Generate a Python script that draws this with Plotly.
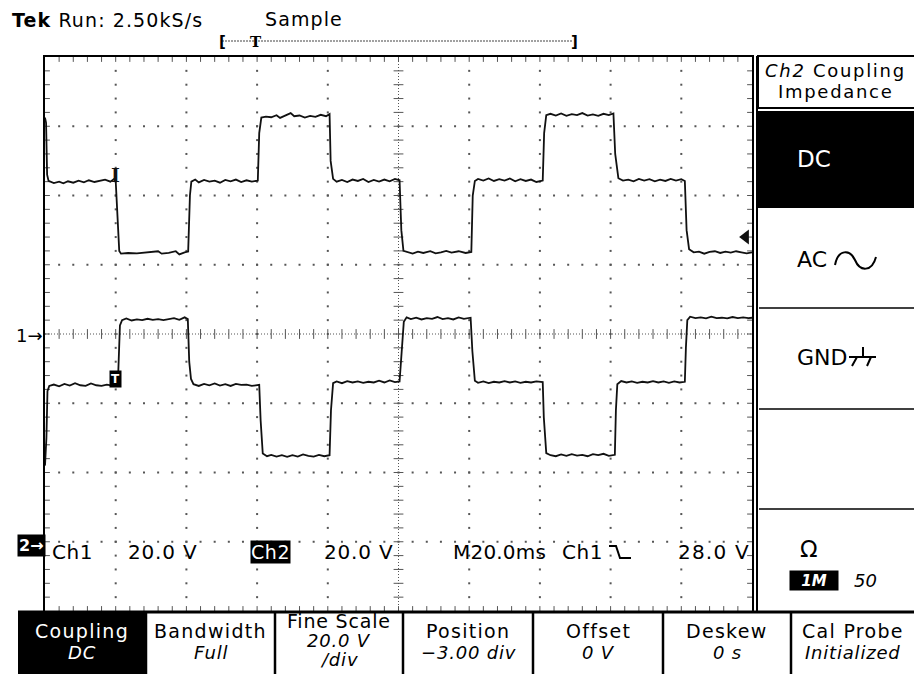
import plotly.graph_objects as go

W, H = 914, 674

CH1_T = [-20.0, -19.7, -19.4, -19.0, -17.5, -16.0, -14.8, -13.5, -12.0, -10.5, -9.0, -7.6, -6.0, -4.5, -3.0, -1.5, -0.4,
         0.0, 0.6, 1.0, 1.5, 3.5, 6.0, 9.0, 12.0, 13.0, 15.0, 17.0, 18.0, 19.5,
         20.5, 21.0, 21.4, 22.5, 23.5, 25.0, 26.5, 28.0, 29.5, 31.0, 32.5, 34.0, 35.5, 37.0, 38.5,
         40.2, 40.6, 41.2, 42.5, 44.0, 45.5, 46.5, 48.0, 49.5, 50.5, 52.0, 53.5, 55.0, 56.5, 58.0, 59.5,
         60.5, 60.8, 61.5, 62.5, 64.0, 65.5, 67.0, 68.5, 70.0, 71.5, 73.0, 74.5, 76.0, 77.5, 79.0,
         80.3, 80.8, 81.4, 82.5, 84.0, 85.5, 87.0, 89.0, 90.5, 92.0, 93.5, 95.0, 97.0, 99.0,
         100.6, 101.0, 101.6, 102.5, 104.0, 105.5, 107.0, 108.5, 110.0, 111.5, 113.0, 114.5, 116.0, 117.5, 119.0,
         120.8, 121.2, 121.8, 123.0, 124.5, 126.0, 127.5, 129.0, 130.5, 132.0, 133.5, 135.0, 136.5, 138.0, 139.5,
         140.8, 141.3, 142.2, 143.5, 145.0, 146.5, 148.0, 149.5, 151.0, 152.5, 154.0, 155.5, 157.0, 158.5, 160.0,
         161.0, 161.5, 162.2, 163.5, 165.0, 166.5, 168.0, 169.5, 171.0, 172.5, 174.0, 175.5, 177.0, 178.5, 180.0]
CH1_V = [62.5, 61.0, 46.0, 44.2, 43.6, 44.0, 43.5, 44.1, 43.7, 44.3, 43.8, 44.4, 43.9, 44.2, 44.6, 44.0, 44.8,
         44.2, 30.0, 24.0, 23.2, 23.4, 23.3, 23.5, 23.9, 23.2, 23.4, 23.9, 23.0, 23.6,
         23.8, 40.0, 44.0, 44.6, 43.8, 44.5, 44.0, 44.3, 43.7, 44.5, 44.1, 44.6, 43.9, 44.4, 44.0,
         44.3, 58.0, 62.5, 62.8, 62.6, 63.2, 62.4, 63.0, 63.8, 62.9, 63.1, 62.5, 63.0, 62.7, 63.3, 62.9,
         63.5, 50.0, 44.8, 44.0, 44.5, 43.9, 44.6, 44.2, 44.8, 43.9, 44.5, 44.0, 44.6, 44.1, 44.8,
         44.4, 30.0, 24.0, 23.6, 23.2, 23.8, 23.4, 23.9, 23.3, 23.6, 24.0, 23.5, 23.9, 23.4,
         23.7, 40.0, 44.2, 44.8, 44.3, 44.9, 44.2, 44.7, 44.3, 44.9, 44.1, 44.7, 44.2, 44.6, 43.9,
         44.3, 58.0, 63.2, 63.6, 63.1, 63.7, 63.0, 63.5, 63.2, 63.8, 63.1, 63.4, 63.0, 63.6, 63.2,
         63.7, 52.0, 45.0, 44.3, 44.6, 44.1, 44.8, 44.3, 44.7, 44.1, 44.6, 44.2, 44.8, 44.3, 44.7,
         44.2, 30.0, 24.5, 23.6, 23.8, 23.2, 23.7, 23.9, 23.4, 23.8, 23.5, 23.9, 23.6, 23.3, 23.6]

CH2_T = [-20.0, -19.6, -19.3, -18.8, -17.5, -16.0, -14.5, -13.0, -11.5, -10.0, -8.5, -7.0, -5.5, -4.0, -2.5, -1.0,
         0.6, 0.8, 1.2, 1.8, 3.0, 4.5, 6.0, 7.5, 9.0, 10.5, 12.0, 13.5, 15.0, 16.5, 18.0, 19.5,
         20.4, 20.8, 21.3, 22.0, 23.5, 25.0, 26.5, 28.0, 29.5, 31.0, 32.5, 34.0, 35.5, 37.0, 38.5,
         40.6, 41.0, 41.6, 42.8, 44.0, 45.5, 47.0, 48.5, 50.0, 51.5, 53.0, 54.5, 56.0, 57.5, 59.0,
         60.5, 60.9, 61.5, 62.5, 64.0, 65.5, 67.0, 68.5, 70.0, 71.5, 73.0, 74.5, 76.0, 77.5, 79.0,
         80.3, 80.7, 81.5, 82.3, 83.5, 85.0, 86.5, 88.0, 89.5, 91.0, 92.5, 94.0, 95.5, 97.0, 98.5,
         100.4, 100.9, 101.6, 102.5, 104.0, 105.5, 107.0, 108.5, 110.0, 111.5, 113.0, 114.5, 116.0, 117.5, 119.0,
         120.8, 121.1, 121.8, 123.0, 124.5, 126.0, 127.5, 129.0, 130.5, 132.0, 133.5, 135.0, 136.5, 138.0, 139.5,
         141.2, 141.5, 141.9, 143.0, 144.5, 146.0, 147.5, 149.0, 150.5, 152.0, 153.5, 155.0, 156.5, 158.0, 159.5,
         161.0, 161.3, 161.7, 162.5, 164.0, 165.5, 167.0, 168.5, 170.0, 171.5, 173.0, 174.5, 176.0, 177.5, 179.0, 180.0]
CH2_V = [22.0, 30.0, 43.5, 45.0, 45.4, 44.9, 45.6, 45.1, 45.8, 45.2, 45.0, 45.7, 45.2, 45.0, 45.4, 45.1,
         45.3, 50.0, 62.5, 64.0, 64.5, 63.9, 64.2, 64.0, 64.4, 64.1, 64.3, 64.0, 64.2, 64.6, 64.1, 64.8,
         64.3, 52.0, 47.0, 45.5, 45.0, 45.6, 45.2, 45.7, 45.1, 45.5, 45.0, 45.6, 45.3, 45.4, 45.0,
         45.3, 35.0, 25.5, 24.7, 25.1, 24.6, 25.0, 24.5, 25.0, 24.6, 25.2, 24.8, 24.6, 25.1, 24.7,
         25.0, 38.0, 45.8, 46.3, 45.8, 46.4, 46.0, 46.3, 45.9, 46.2, 46.0, 46.5, 46.0, 46.6, 46.1,
         46.3, 52.0, 63.5, 64.8, 64.3, 64.7, 64.2, 64.6, 64.4, 64.9, 64.3, 64.6, 64.2, 64.8, 64.4,
         64.7, 55.0, 46.5, 45.9, 46.3, 45.8, 46.2, 46.0, 46.4, 46.0, 46.3, 45.9, 46.2, 46.0, 46.3,
         46.1, 36.0, 25.6, 25.0, 24.7, 25.2, 24.8, 25.3, 24.9, 25.1, 24.7, 25.3, 25.0, 25.4, 24.8,
         25.1, 38.0, 45.5, 46.4, 46.0, 46.3, 45.9, 46.2, 46.0, 46.4, 46.0, 46.3, 45.9, 46.3, 46.0,
         46.2, 56.0, 64.0, 65.0, 64.6, 64.8, 64.5, 65.0, 64.6, 64.7, 64.5, 64.9, 64.6, 64.8, 64.6, 64.7]

TIME_PER_DIV = 20.0        # ms / div
CH1_VOLTS_PER_DIV = 20.0
CH2_VOLTS_PER_DIV = 20.0
CH2_POSITION_DIV = -3.0
TRIGGER_TIME = 0.0
TRIGGER_LEVEL = 28.0
TRIGGER_DIV_FROM_LEFT = 1
H_DIVS, V_DIVS, SUBDIV = 10, 8, 5

MENU_LABELS = ["Coupling", "Bandwidth", "Fine Scale", "Position", "Offset", "Deskew", "Cal Probe"]
MENU_VALUES = ["DC", "Full", "20.0 V<br>/div", "\u22123.00 div", "0 V", "0 s", "Initialized"]

FONT = "DejaVu Sans"
INK = "#111111"
GRID = "#555555"

# ---------------- axes ranges from the scope settings ----------------
x_range = [TRIGGER_TIME - TRIGGER_DIV_FROM_LEFT * TIME_PER_DIV,
           TRIGGER_TIME + (H_DIVS - TRIGGER_DIV_FROM_LEFT) * TIME_PER_DIV]
y_range = [-V_DIVS / 2 * CH1_VOLTS_PER_DIV, V_DIVS / 2 * CH1_VOLTS_PER_DIV]
y2_range = [(-V_DIVS / 2 - CH2_POSITION_DIV) * CH2_VOLTS_PER_DIV,
            (V_DIVS / 2 - CH2_POSITION_DIV) * CH2_VOLTS_PER_DIV]

# plot area in pixels
PL, PR, PT, PB = 45, 752, 57, 611


def px(x):
    return x / W


def py(y):
    return 1 - y / H


fig = go.Figure()

# ---------------- graticule ----------------
dt = TIME_PER_DIV / SUBDIV
dv = CH1_VOLTS_PER_DIV / SUBDIV
xc = (x_range[0] + x_range[1]) / 2
yc = (y_range[0] + y_range[1]) / 2

dots_x, dots_y = [], []
for k in range(1, H_DIVS):
    if k == H_DIVS // 2:
        continue
    t = x_range[0] + k * TIME_PER_DIV
    for j in range(1, V_DIVS * SUBDIV):
        dots_x.append(t)
        dots_y.append(y_range[0] + j * dv)
for k in range(1, V_DIVS):
    if k == V_DIVS // 2:
        continue
    v = y_range[0] + k * CH1_VOLTS_PER_DIV
    for i in range(1, H_DIVS * SUBDIV):
        dots_x.append(x_range[0] + i * dt)
        dots_y.append(v)
fig.add_trace(go.Scatter(x=dots_x, y=dots_y, mode="markers", hoverinfo="skip",
                         marker=dict(symbol="square", size=2, color=GRID, line=dict(width=0))))

# centre lines (dense dots)
fig.add_trace(go.Scatter(x=[xc, xc], y=y_range, mode="lines", hoverinfo="skip",
                         line=dict(color=GRID, width=1, dash="1px,2px")))
fig.add_trace(go.Scatter(x=x_range, y=[yc, yc], mode="lines", hoverinfo="skip",
                         line=dict(color=GRID, width=1, dash="1px,2px")))

# centre-line cross ticks
ns_x, ns_y, ew_x, ew_y = [], [], [], []
for i in range(1, H_DIVS * SUBDIV):
    ns_x.append(x_range[0] + i * dt)
    ns_y.append(yc)
for j in range(1, V_DIVS * SUBDIV):
    ew_x.append(xc)
    ew_y.append(y_range[0] + j * dv)
# border ticks (half clipped -> inward)
for i in range(1, H_DIVS * SUBDIV):
    for v in y_range:
        ns_x.append(x_range[0] + i * dt)
        ns_y.append(v)
for j in range(1, V_DIVS * SUBDIV):
    for t in x_range:
        ew_x.append(t)
        ew_y.append(y_range[0] + j * dv)
fig.add_trace(go.Scatter(x=ns_x, y=ns_y, mode="markers", hoverinfo="skip",
                         marker=dict(symbol="line-ns", size=7, color=GRID, line=dict(width=1, color=GRID))))
fig.add_trace(go.Scatter(x=ew_x, y=ew_y, mode="markers", hoverinfo="skip",
                         marker=dict(symbol="line-ew", size=7, color=GRID, line=dict(width=1, color=GRID))))

# ---------------- waveforms ----------------
fig.add_trace(go.Scatter(x=CH1_T, y=CH1_V, mode="lines", name="Ch1", hoverinfo="skip",
                         line=dict(color=INK, width=1.8)))
fig.add_trace(go.Scatter(x=CH2_T, y=CH2_V, mode="lines", name="Ch2", yaxis="y2", hoverinfo="skip",
                         line=dict(color=INK, width=1.8)))

# trigger level arrow on right edge
fig.add_trace(go.Scatter(x=[x_range[1] - 0.09 * TIME_PER_DIV], y=[TRIGGER_LEVEL], mode="markers",
                         hoverinfo="skip", cliponaxis=False,
                         marker=dict(symbol="triangle-left", size=13, color=INK)))

fig.update_layout(
    width=W, height=H, margin=dict(l=0, r=0, t=0, b=0),
    paper_bgcolor="white", plot_bgcolor="white", showlegend=False,
    xaxis=dict(domain=[px(PL), px(PR)], range=x_range, showgrid=False, zeroline=False,
               showticklabels=False, ticks="", showline=True, mirror=True, linecolor="black", linewidth=2),
    yaxis=dict(domain=[py(PB), py(PT)], range=y_range, showgrid=False, zeroline=False,
               showticklabels=False, ticks="", showline=True, mirror=True, linecolor="black", linewidth=2),
    yaxis2=dict(overlaying="y", range=y2_range, showgrid=False, zeroline=False,
                showticklabels=False, ticks="", showline=False),
)

# ---------------- annotations / UI ----------------
anns = []


def ann(text, x, y, size=19, color="black", xanchor="left", bg=None, ls=None, bold=False,
        italic=False, family=FONT, pad=0, **kw):
    t = text
    if ls is not None:
        t = '<span style="letter-spacing:%spx">%s</span>' % (ls, t)
    f = dict(family=family, size=size, color=color)
    if bold:
        f["weight"] = "bold"
    if italic:
        f["style"] = "italic"
    d = dict(text=t, x=px(x), y=py(y), xref="paper", yref="paper", xanchor=xanchor,
             yanchor="middle", showarrow=False, font=f, borderpad=pad)
    if bg:
        d["bgcolor"] = bg
    d.update(kw)
    anns.append(d)


# top status
ann("<b>Tek</b> Run: 2.50kS/s", 11, 20, size=19, ls=1.1)
ann("Sample", 264, 19, size=19, ls=1.1)
ann("<b>[</b>", 218, 42, size=15)
ann("<b>]</b>", 570, 42, size=15)
ann("<b>T</b>", 249, 42, size=15, family="DejaVu Serif")

# ground markers
ann("1\u2192", 44, 335, size=18, xanchor="right")
ann("<b>2\u2192</b>", 17, 545, size=16, color="white", bg="black", pad=1)

# trigger markers on traces
anns.append(dict(text="<b>I</b>", x=TRIGGER_TIME, y=46.0, xref="x", yref="y", showarrow=False,
                 xanchor="center", yanchor="middle", font=dict(family="DejaVu Serif", size=19, color=INK)))
anns.append(dict(text="<b>T</b>", x=TRIGGER_TIME, y=47.0, xref="x", yref="y2", showarrow=False,
                 xanchor="center", yanchor="middle", bgcolor="black", borderpad=1,
                 font=dict(family=FONT, size=12, color="white")))

# readout row
RY = 552
ann("Ch1", 51, RY, size=20, ls=0.6)
ann("20.0 V", 127, RY, size=20, ls=0.8)
ann("Ch2", 250, RY, size=19, color="white", bg="black", pad=0, ls=0.6)
ann("20.0 V", 323, RY, size=20, ls=0.8)
ann("M20.0ms", 452, RY, size=20, ls=0.2)
ann("Ch1", 561, RY, size=20, ls=0.6)
ann("28.0 V", 677, RY, size=20, ls=1.2)

# right side menu
ann("<i>Ch2</i> Coupling", 835, 70, size=18, xanchor="center", ls=1.7)
ann("Impedance", 835, 91.5, size=18, xanchor="center", ls=1.7)
ann("DC", 796, 159, size=23, color="white")
ann("AC", 796, 259, size=22)
ann("GND", 796, 357, size=22)
ann("\u03a9", 799, 549, size=23)
ann("<i><b>1M</b></i>", 814, 580, size=15, color="white", bg="black", xanchor="center", pad=0,
    width=48, height=19)
ann("<i>50</i>", 853, 580, size=18)

# bottom menu
SEPS = [18, 146, 275, 403, 533, 663, 791, 914]
for i, (lab, val) in enumerate(zip(MENU_LABELS, MENU_VALUES)):
    cx = (SEPS[i] + SEPS[i + 1]) / 2
    col = "white" if i == 0 else "black"
    if "<br>" in val:
        ann(lab, cx, 621, size=19, xanchor="center", color=col, ls=0.8)
        a, b = val.split("<br>")
        ann("<i>%s</i>" % a, cx, 640, size=18, xanchor="center", color=col, ls=0.8)
        ann("<i>%s</i>" % b, cx, 659, size=18, xanchor="center", color=col, ls=0.8)
    else:
        ann(lab, cx, 631, size=19, xanchor="center", color=col, ls=1.3)
        ann("<i>%s</i>" % val, cx, 652, size=18, xanchor="center", color=col, ls=0.8)

fig.update_layout(annotations=anns)

# ---------------- shapes (panel boxes, separators, record bar, glyphs) ----------------
shapes = []


def rect(x0, y0, x1, y1, fill=None, lw=2, lc="black"):
    shapes.append(dict(type="rect", xref="paper", yref="paper", x0=px(x0), x1=px(x1), y0=py(y1), y1=py(y0),
                       line=dict(color=lc, width=lw), fillcolor=fill, layer="below" if fill else "above"))


def line(x0, y0, x1, y1, lw=2, lc="black", dash=None):
    d = dict(type="line", xref="paper", yref="paper", x0=px(x0), x1=px(x1), y0=py(y0), y1=py(y1),
             line=dict(color=lc, width=lw))
    if dash:
        d["line"]["dash"] = dash
    shapes.append(d)


def path(pts_cmds, lw=2):
    out = []
    for cmd, pts in pts_cmds:
        out.append(cmd + " " + " ".join("%f,%f" % (px(a), py(b)) for a, b in pts))
    shapes.append(dict(type="path", xref="paper", yref="paper", path=" ".join(out),
                       line=dict(color="black", width=lw)))


# record bar
line(222, 41, 573, 41, lw=1.2, lc="#444", dash="2px,1px")
# right panel
line(757, 56, 757, 611, lw=2)
rect(758, 56, 916, 108, lw=2)
rect(758, 111, 916, 208, fill="black", lw=0)
line(759, 308, 914, 308, lw=1.5)
line(759, 409, 914, 409, lw=1.5)
line(759, 509, 914, 509, lw=1.5)
# AC sine-wave glyph
path([("M", [(835, 265)]), ("C", [(838, 249), (850, 249), (855, 260)]),
      ("C", [(860, 272), (872, 272), (876, 257)])], lw=2)
# ground glyph
path([("M", [(863, 347)]), ("L", [(863, 357)]), ("M", [(849, 357)]), ("L", [(876, 357)]),
      ("M", [(857, 357)]), ("L", [(852, 366)]), ("M", [(871, 357)]), ("L", [(867, 366)])], lw=2)
# Ch1 falling-edge trigger glyph in the readout
path([("M", [(609, 546)]), ("L", [(616, 546)]), ("L", [(620, 558)]), ("L", [(631, 558)])], lw=2)
# bottom menu
rect(18, 612, 146, 676, fill="black", lw=0)
line(18, 612, 914, 612, lw=3)
for sx in SEPS[1:-1]:
    line(sx, 612, sx, 674, lw=2.5)

fig.update_layout(shapes=shapes)

fig.write_html("out.html", config={"displayModeBar": False},
               post_script="document.body.style.margin='0';document.body.style.overflow='hidden';")
